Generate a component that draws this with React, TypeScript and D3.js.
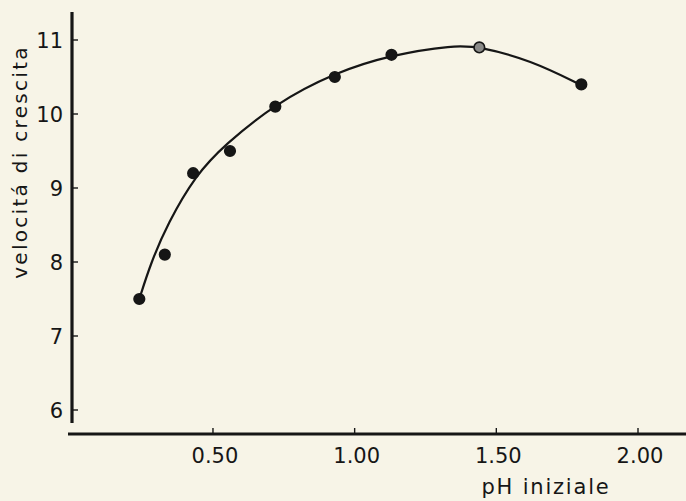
import * as d3 from "d3";
import { useEffect, useRef } from "react";

const phValues = [0.24, 0.33, 0.43, 0.56, 0.72, 0.93, 1.13, 1.44, 1.80];
const growthValues = [7.5, 8.1, 9.2, 9.5, 10.1, 10.5, 10.8, 10.9, 10.4];

// curva interpolante tracciata a mano nell'originale
const curvePh = [0.24, 0.28, 0.34, 0.44, 0.54, 0.72, 0.93, 1.13, 1.35, 1.44, 1.62, 1.80];
const curveGrowth = [7.5, 7.98, 8.52, 9.18, 9.58, 10.14, 10.56, 10.8, 10.93, 10.91, 10.73, 10.39];

const xTicks = [0.5, 1.0, 1.5, 2.0];
const yTicks = [6, 7, 8, 9, 10, 11];

const W = 686;
const H = 501;
const INK = "#161616";
const FONT = "'DejaVu Sans', sans-serif";

const App = () => {
  const ref = useRef<SVGSVGElement>(null);

  useEffect(() => {
    const svg = d3.select(ref.current);
    svg.selectAll("*").remove();

    const x = d3.scaleLinear().domain([0, 2]).range([71.3, 638]);
    const y = d3.scaleLinear().domain([6, 11]).range([410, 40]);

    svg.append("rect").attr("width", W).attr("height", H).attr("fill", "#f7f4e7");

    // assi
    svg.append("line")
      .attr("x1", 72).attr("x2", 72).attr("y1", 12).attr("y2", 423)
      .attr("stroke", INK).attr("stroke-width", 3.2);
    svg.append("line")
      .attr("x1", 68).attr("x2", W).attr("y1", 434).attr("y2", 434)
      .attr("stroke", INK).attr("stroke-width", 3.2);

    svg.selectAll(".ytick")
      .data(yTicks)
      .enter()
      .append("line")
      .attr("x1", 72).attr("x2", 78)
      .attr("y1", d => y(d)).attr("y2", d => y(d))
      .attr("stroke", INK).attr("stroke-width", 1.4);

    svg.selectAll(".ylab")
      .data(yTicks)
      .enter()
      .append("text")
      .attr("x", 63)
      .attr("y", d => y(d) + 7.5)
      .attr("text-anchor", "end")
      .attr("font-family", FONT)
      .attr("font-size", 21)
      .attr("fill", INK)
      .text(d => d);

    svg.selectAll(".xtick")
      .data(xTicks)
      .enter()
      .append("line")
      .attr("x1", d => x(d)).attr("x2", d => x(d))
      .attr("y1", 434).attr("y2", 428)
      .attr("stroke", INK).attr("stroke-width", 1.4);

    svg.selectAll(".xlab")
      .data(xTicks)
      .enter()
      .append("text")
      .attr("x", d => x(d) + 2)
      .attr("y", 463)
      .attr("text-anchor", "middle")
      .attr("font-family", FONT)
      .attr("font-size", 21)
      .attr("fill", INK)
      .text(d => d.toFixed(2));

    svg.append("text")
      .attr("x", 546)
      .attr("y", 494)
      .attr("text-anchor", "middle")
      .attr("font-family", FONT)
      .attr("font-size", 21)
      .attr("letter-spacing", 1.8)
      .attr("fill", INK)
      .text("pH iniziale");

    svg.append("text")
      .attr("transform", "translate(27, 162) rotate(-90)")
      .attr("text-anchor", "middle")
      .attr("font-family", FONT)
      .attr("font-size", 20)
      .attr("letter-spacing", 2.3)
      .attr("fill", INK)
      .text("velocitá di crescita");

    // curva
    const line = d3.line<number>()
      .x((_, i) => x(curvePh[i]))
      .y(d => y(d))
      .curve(d3.curveBasis);
    svg.append("path")
      .attr("d", line(curveGrowth))
      .attr("fill", "none")
      .attr("stroke", INK)
      .attr("stroke-width", 2.2);

    // punti
    svg.selectAll(".pt")
      .data(growthValues)
      .enter()
      .append("circle")
      .attr("cx", (_, i) => x(phValues[i]))
      .attr("cy", d => y(d))
      .attr("r", 5.3)
      .attr("fill", (_, i) => (i === 7 ? "#8a8a88" : INK))
      .attr("stroke", INK)
      .attr("stroke-width", 1.6);
  }, []);

  return (
    <svg
      ref={ref}
      width={W}
      height={H}
      style={{ position: "absolute", left: 0, top: 0, display: "block" }}
    ></svg>
  );
};

export default App;
